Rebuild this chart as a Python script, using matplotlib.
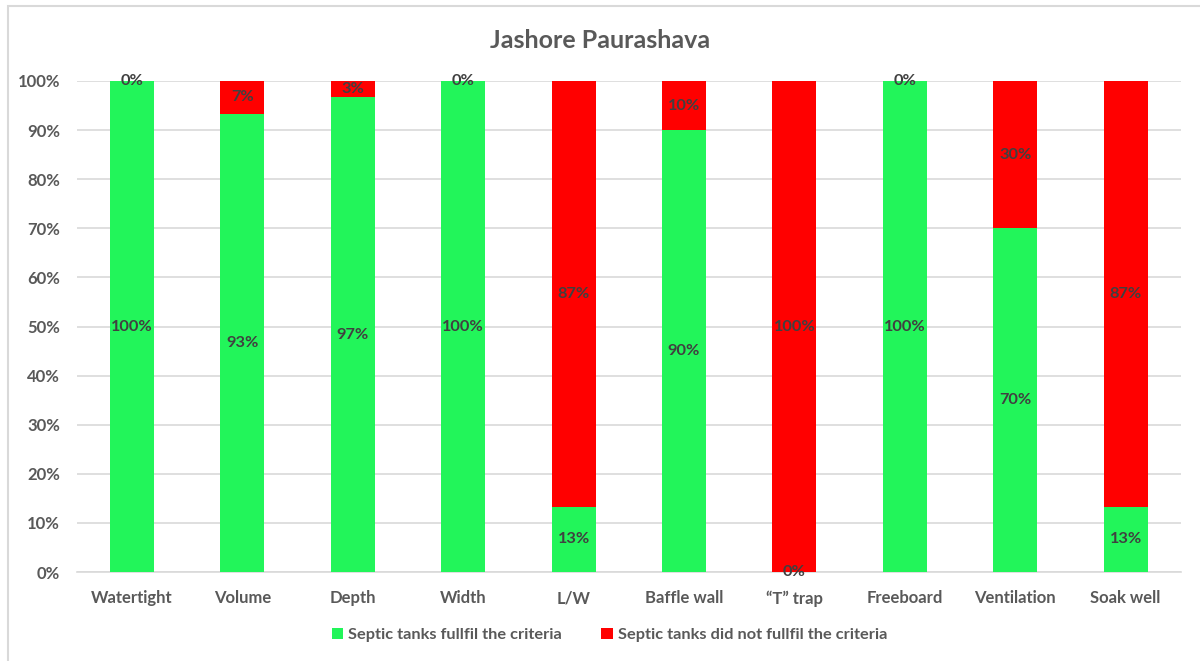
import matplotlib
matplotlib.use("Agg")
import matplotlib.pyplot as plt
from matplotlib.patches import Rectangle
import numpy as np

categories = ["Watertight", "Volume", "Depth", "Width", "L/W", "Baffle wall",
              "\u201cT\u201d trap", "Freeboard", "Ventilation", "Soak well"]
fulfil = [100, 93.33, 96.67, 100, 13.33, 90, 0, 100, 70, 13.33]
not_fulfil = [0, 6.67, 3.33, 0, 86.67, 10, 100, 0, 30, 86.67]
yticks = [0, 10, 20, 30, 40, 50, 60, 70, 80, 90, 100]

title = "Jashore Paurashava"
legend_labels = ["Septic tanks fullfil the criteria", "Septic tanks did not fullfil the criteria"]

plt.rcParams['font.family'] = ['Lato', 'DejaVu Sans']

fig = plt.figure(figsize=(12, 6.61), dpi=100)
ax = fig.add_axes([0.064, 0.1346, 0.92, 0.7429])

x = np.arange(len(categories))
green = "#22F55A"
red = "#FF0000"
b1 = ax.bar(x, fulfil, width=0.4, color=green, label=legend_labels[0], zorder=3)
b2 = ax.bar(x, not_fulfil, width=0.4, bottom=fulfil, color=red, label=legend_labels[1], zorder=3)

lab_col = "#404040"
for i in range(len(categories)):
    g = fulfil[i]
    r = not_fulfil[i]
    ax.text(x[i], g / 2, f"{round(g)}%", ha="center", va="center", fontsize=11.8,
            fontweight="bold", color=lab_col, zorder=4)
    ax.text(x[i], g + r / 2, f"{round(r)}%", ha="center", va="center", fontsize=11.8,
            fontweight="bold", color=lab_col, zorder=4)

ax.set_xlim(-0.5, len(categories) - 0.5)
ax.set_ylim(0, 100)
ax.set_yticks(yticks)
ax.set_yticklabels([f"{v}%" for v in yticks])
ax.set_xticks(x)
ax.set_xticklabels(categories)
ax.tick_params(axis="both", length=0, labelsize=12, colors="#595959")
ax.tick_params(axis="x", pad=13)
ax.tick_params(axis="y", pad=12)
for lab in ax.get_xticklabels():
    lab.set_fontweight("bold")
for lab in ax.get_yticklabels():
    lab.set_fontweight("bold")
ax.grid(axis="y", color="#d9d9d9", linewidth=1.2, zorder=0)
for s in ["top", "right", "left"]:
    ax.spines[s].set_visible(False)
ax.spines["bottom"].set_color("#d9d9d9")
ax.spines["bottom"].set_linewidth(1.2)

fig.text(0.5, 1 - 41 / 661, title, ha="center", va="center", fontsize=18,
         fontweight="bold", color="#595959")

leg = fig.legend(handles=[b1, b2], labels=legend_labels, loc="center",
                 bbox_to_anchor=(0.508, 1 - 635 / 661), ncol=2, frameon=False,
                 fontsize=11.8, handlelength=0.7, handleheight=0.7, handletextpad=0.3,
                 columnspacing=2.4)
for t in leg.get_texts():
    t.set_color("#595959")
    t.set_fontweight("bold")

fig.patches.append(Rectangle((8 / 1200, -0.1), 1.2, 1 - 6 / 661 + 0.1, transform=fig.transFigure,
                             fill=False, edgecolor="#d9d9d9", linewidth=1.5))

fig.savefig("out.png", dpi=100)
